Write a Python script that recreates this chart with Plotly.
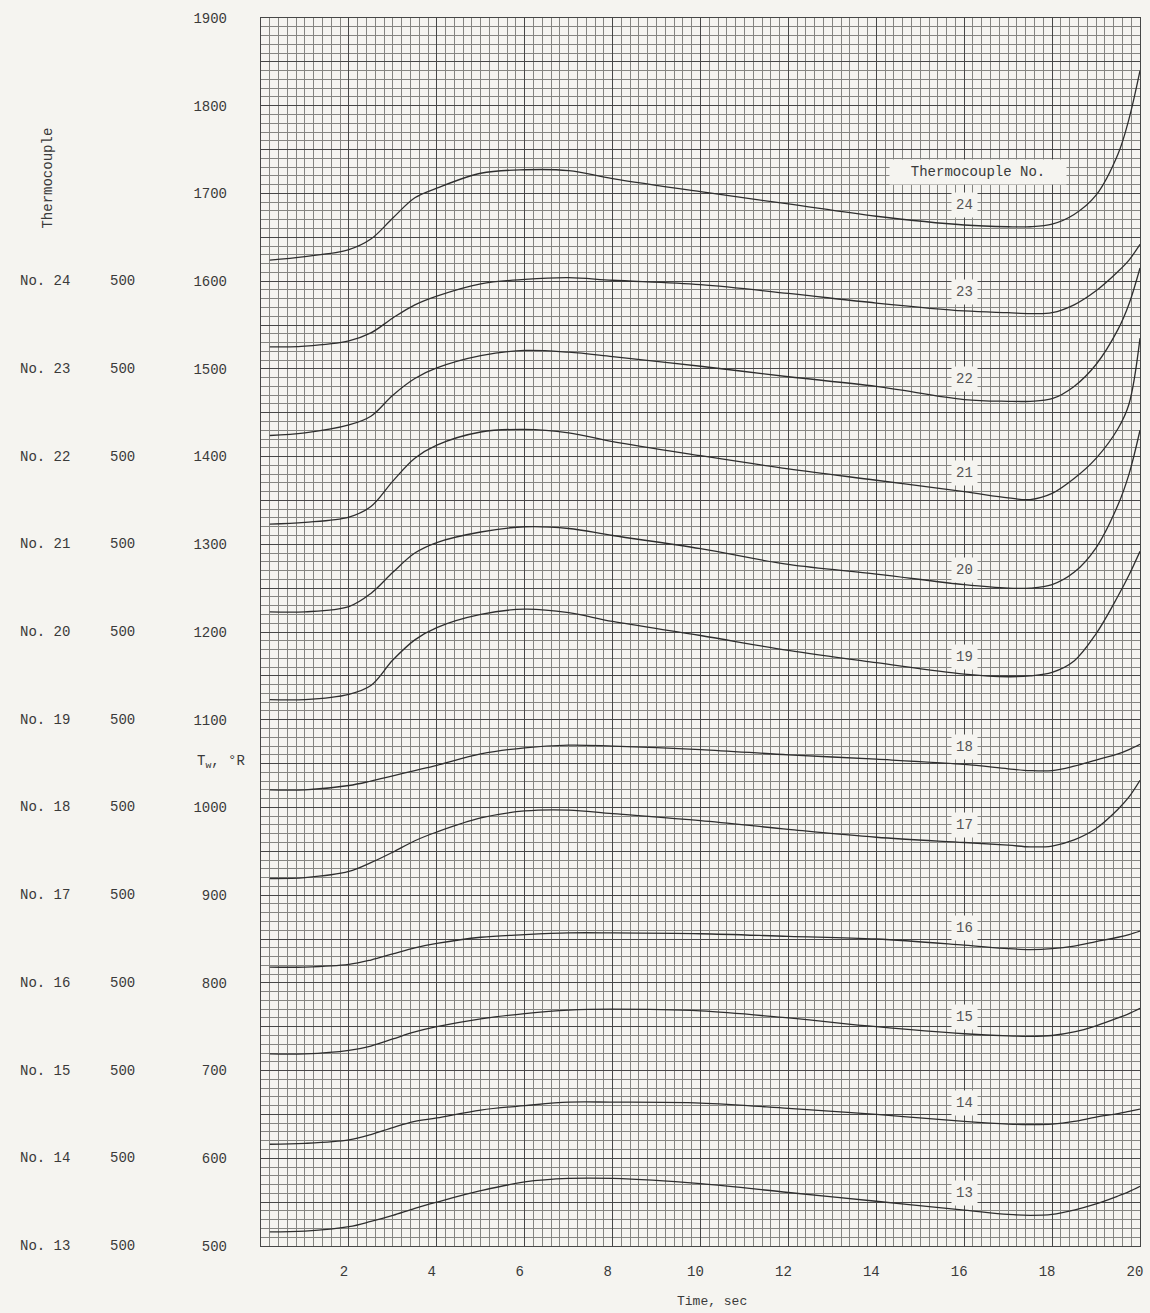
import plotly.graph_objects as go

# Time samples (sec) shared by all thermocouple traces
TIME = [0.2, 1, 2, 2.5, 3, 3.5, 4, 5, 6, 7, 8, 10, 12, 14, 16, 17, 17.5, 18, 18.5, 19, 19.5, 19.75, 20]

# Wall temperature traces, each plotted on its own offset scale (values in chart units)
TC24 = [1624, 1628, 1636, 1648, 1672, 1695, 1706, 1723, 1727, 1726, 1717, 1702, 1688, 1674, 1664, 1662, 1662, 1665, 1676, 1698, 1745, 1785, 1840]
TC23 = [1525, 1526, 1532, 1541, 1558, 1573, 1583, 1597, 1602, 1604, 1601, 1596, 1586, 1575, 1566, 1564, 1563, 1564, 1573, 1589, 1611, 1624, 1642]
TC22 = [1424, 1427, 1436, 1446, 1470, 1489, 1501, 1515, 1521, 1519, 1514, 1503, 1491, 1480, 1465, 1463, 1463, 1466, 1480, 1505, 1545, 1574, 1615]
TC21 = [1323, 1325, 1331, 1343, 1372, 1398, 1413, 1428, 1431, 1427, 1417, 1401, 1386, 1373, 1360, 1353, 1351, 1358, 1375, 1398, 1432, 1460, 1535]
TC20 = [1223, 1223, 1229, 1244, 1268, 1290, 1302, 1314, 1320, 1318, 1310, 1295, 1277, 1266, 1254, 1250, 1250, 1254, 1268, 1296, 1345, 1380, 1430]
TC19 = [1123, 1123, 1129, 1139, 1168, 1191, 1205, 1220, 1226, 1222, 1212, 1196, 1179, 1165, 1152, 1149, 1150, 1154, 1167, 1198, 1241, 1265, 1292]
TC18 = [1020, 1020, 1025, 1030, 1036, 1042, 1048, 1061, 1068, 1071, 1070, 1066, 1060, 1055, 1049, 1044, 1042, 1042, 1047, 1054, 1061, 1066, 1072]
TC17 = [919, 920, 927, 937, 949, 962, 972, 988, 996, 997, 993, 985, 975, 966, 960, 957, 955, 956, 963, 976, 998, 1012, 1031]
TC16 = [818, 818, 821, 826, 833, 840, 845, 852, 855, 857, 857, 856, 853, 850, 843, 839, 838, 839, 842, 847, 852, 855, 859]
TC15 = [719, 719, 723, 728, 736, 744, 750, 759, 765, 769, 770, 768, 760, 750, 742, 739.5, 739, 740, 744, 751, 760, 765, 771]
TC14 = [616, 617, 621, 627, 635, 642, 646, 655, 660, 664, 664, 663, 657, 650, 642, 639, 638.5, 639, 642, 647, 651, 653.5, 656]
TC13 = [516, 517, 522, 528, 535, 543, 550, 563, 573, 577, 577, 571, 561, 551, 541, 536, 535, 536, 541, 548, 557, 562, 568]

THERMOCOUPLES = ["24", "23", "22", "21", "20", "19", "18", "17", "16", "15", "14", "13"]
SERIES = [TC24, TC23, TC22, TC21, TC20, TC19, TC18, TC17, TC16, TC15, TC14, TC13]
# Each thermocouple's 500 deg R datum sits on this chart-scale value
DATUM = [1600, 1500, 1400, 1300, 1200, 1100, 1000, 900, 800, 700, 600, 500]
# Vertical placement of the curve identifiers along the t = 16 sec line
ID_Y = [1687, 1588, 1488, 1381, 1271, 1172, 1069, 980, 863, 761, 663, 560]

Y_TICKS = list(range(500, 1901, 50))
Y_TEXT = [str(v) if v % 100 == 0 else " " for v in Y_TICKS]
X_TICKS = list(range(2, 21, 2))

PAPER = "#f5f4f0"
INK = "#3a3a3a"
FONT = "Liberation Mono, Courier New, monospace"

fig = go.Figure()
for name, vals in zip(THERMOCOUPLES, SERIES):
    fig.add_trace(go.Scatter(
        x=TIME, y=vals, mode="lines", name="No. " + name,
        line=dict(color="#2e2e2e", width=1.3, shape="spline", smoothing=1.0),
        showlegend=False, hoverinfo="skip",
    ))

ann = []
for name, ly in zip(THERMOCOUPLES, ID_Y):
    ann.append(dict(x=16, y=ly, xref="x", yref="y", text=name, showarrow=False,
                    xanchor="center", yanchor="middle",
                    font=dict(family=FONT, size=14, color="#555"),
                    bgcolor=PAPER, borderpad=4))
ann.append(dict(x=16.31, y=1724, xref="x", yref="y", text="  Thermocouple No.  ",
                xanchor="center", yanchor="middle",
                showarrow=False, font=dict(family=FONT, size=14, color=INK),
                bgcolor=PAPER, borderpad=4))

# Left-hand scale key: thermocouple number and its 500 deg R datum
for name, d in zip(THERMOCOUPLES, DATUM):
    ann.append(dict(x=-0.276, y=d, xref="paper", yref="y", text="No. " + name,
                    xanchor="left", yanchor="middle", showarrow=False,
                    font=dict(family=FONT, size=14, color=INK)))
    ann.append(dict(x=-0.158, y=d, xref="paper", yref="y", text="500",
                    xanchor="center", yanchor="middle", showarrow=False,
                    font=dict(family=FONT, size=14, color=INK)))
ann.append(dict(x=-0.2423, y=1717, xref="paper", yref="y", text="Thermocouple",
                xanchor="center", yanchor="middle", textangle=-90, showarrow=False,
                font=dict(family=FONT, size=14, color=INK)))
ann.append(dict(x=-0.075, y=1052, xref="paper", yref="y", text="T<sub>w</sub>, °R",
                xanchor="left", yanchor="middle", showarrow=False,
                font=dict(family=FONT, size=14, color=INK)))
ann.append(dict(x=0.513, y=-0.0448, xref="paper", yref="paper", text="Time, sec",
                xanchor="center", yanchor="middle",
                showarrow=False, font=dict(family=FONT, size=13, color=INK)))

fig.update_layout(
    width=1150, height=1313,
    margin=dict(l=261, r=10, t=18, b=67, autoexpand=False),
    paper_bgcolor=PAPER, plot_bgcolor=PAPER,
    annotations=ann,
    xaxis=dict(
        range=[0, 20], tickvals=X_TICKS, ticks="", ticklabelstandoff=12,
        ticklabelshift=-5, ticklabeloverflow="allow",
        tickfont=dict(family=FONT, size=14, color=INK),
        showgrid=True, gridcolor="#474747", gridwidth=1.4, zeroline=False,
        showline=True, linecolor="#474747", linewidth=1.4, mirror=True,
        minor=dict(dtick=0.2, showgrid=True, gridcolor="#858581", gridwidth=0.9),
    ),
    yaxis=dict(
        range=[500, 1900], tickvals=Y_TICKS, ticktext=Y_TEXT, ticks="",
        ticklabelstandoff=30, ticklabeloverflow="allow",
        tickfont=dict(family=FONT, size=14, color=INK),
        showgrid=True, gridcolor="#474747", gridwidth=1.4, zeroline=False,
        showline=True, linecolor="#474747", linewidth=1.4, mirror=True,
        minor=dict(dtick=10, showgrid=True, gridcolor="#858581", gridwidth=0.9),
    ),
)

fig.write_html("out.html")
